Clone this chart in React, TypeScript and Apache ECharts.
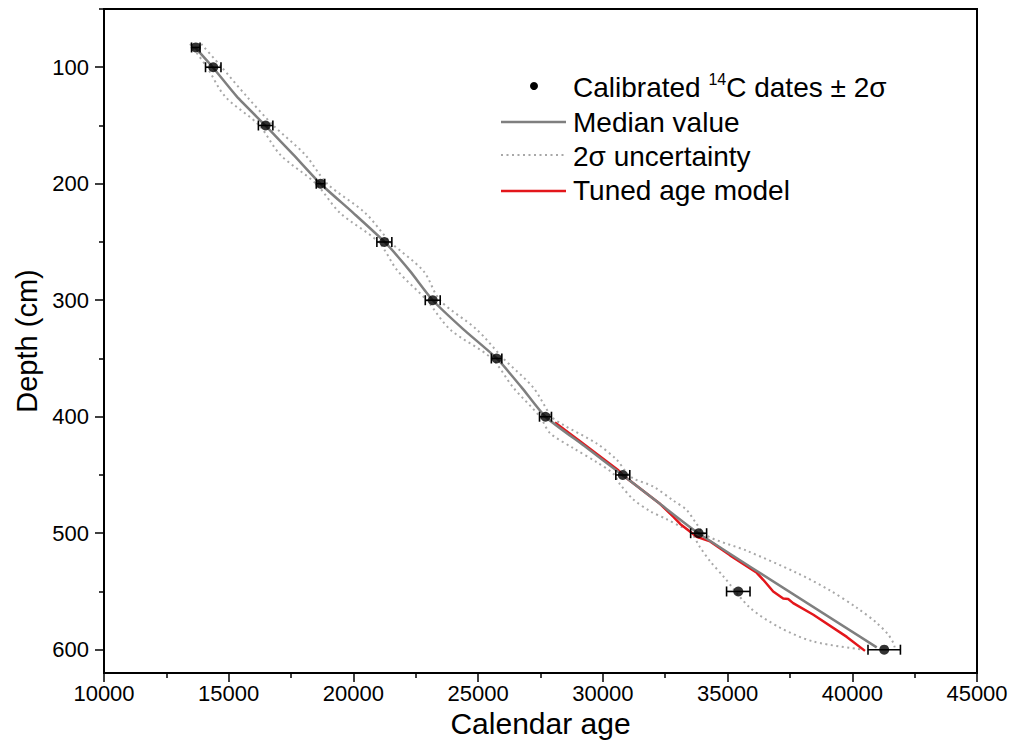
import React, { useEffect, useRef } from 'react';
import * as echarts from 'echarts';

// Calibrated 14C dates (calendar age, depth in cm, 2-sigma half width)
const dateDepths = [83, 100, 150, 200, 250, 300, 350, 400, 450, 500, 550, 600];
const dateAges = [13680, 14380, 16480, 18680, 21240, 23180, 25740, 27700, 30800, 33840, 35430, 41280];
const dateErrors = [170, 310, 290, 170, 300, 300, 210, 240, 280, 320, 470, 650];

// Median age-depth model
const medianDepths = [83, 100, 125, 150, 175, 200, 225, 250, 275, 300, 325, 350, 375, 400, 425, 450, 475, 500, 598];
const medianAges = [13650, 14360, 15320, 16470, 17590, 18680, 19990, 21250, 22270, 23180, 24410, 25750, 26750, 27700, 29250, 30790, 32300, 33830, 40980];

// 2-sigma uncertainty envelope: younger bound
const envLowerDepths = [80, 100, 125, 150, 175, 200, 225, 250, 275, 300, 325, 350, 375, 400, 414, 427, 439, 449, 458, 471, 481, 488, 494, 498, 512, 524, 537, 564, 581, 593, 600];
const envLower = [13450, 14130, 14850, 16230, 17060, 18500, 19460, 21000, 21780, 22940, 23870, 25545, 26410, 27480, 27880, 28815, 29754, 30420, 30690, 31220, 31890, 32560, 33090, 33490, 33895, 34300, 34830, 35900, 37100, 38440, 40450];
// 2-sigma uncertainty envelope: older bound
const envUpperDepths = [80, 100, 125, 150, 175, 200, 225, 250, 275, 300, 325, 350, 375, 400, 407, 423, 437, 448, 453, 460, 472, 480, 490, 502, 515, 534, 549, 564, 577, 587, 594, 598];
const envUpper = [13900, 14720, 15720, 16790, 18060, 18950, 20470, 21480, 22810, 23470, 24940, 26010, 27210, 27950, 28415, 29754, 30556, 30950, 31223, 32025, 32826, 33360, 33693, 34160, 35760, 37770, 39100, 40180, 40980, 41440, 41640, 41700];

// Tuned age model
const tunedDepths = [405, 421, 446, 450, 475, 486, 492, 503, 507, 519, 534, 540, 550, 556, 556.5, 560, 570, 589, 601];
const tunedAges = [28080, 29085, 30620, 30790, 32300, 32830, 33100, 33760, 34300, 35100, 36170, 36430, 36830, 37230, 37430, 37630, 38440, 39780, 40510];

const yMajorTicks = [100, 200, 300, 400, 500, 600];
const yMinorTicks = [50, 150, 250, 350, 450, 550];
const xMin = 10000;
const xMax = 45000;
const xStep = 5000;

const FONT = "'Liberation Sans', Arial, sans-serif";

export default function App() {
  const ref = useRef<HTMLDivElement>(null);

  useEffect(() => {
    if (!ref.current) return;
    const chart = echarts.init(ref.current, undefined, { renderer: 'svg' });

    const errData = dateAges.map((a, i) => [a, dateDepths[i], dateErrors[i]]);
    const ptData = dateAges.map((a, i) => [a, dateDepths[i]]);
    const medData = medianAges.map((a, i) => [a, medianDepths[i]]);
    const lowData = envLower.map((a, i) => [a, envLowerDepths[i]]);
    const upData = envUpper.map((a, i) => [a, envUpperDepths[i]]);
    const tunedData = tunedAges.map((a, i) => [a, tunedDepths[i]]);

    const legendX0 = 501;
    const legendX1 = 566;
    const textX = 573;
    const dotted = [2, 3.5];

    chart.setOption({
      animation: false,
      backgroundColor: '#fff',
      grid: {
        left: 104,
        right: 39,
        top: 9,
        bottom: 72,
        show: true,
        borderColor: '#000',
        borderWidth: 2,
      },
      xAxis: {
        type: 'value',
        min: xMin,
        max: xMax,
        interval: xStep,
        name: 'Calendar age',
        nameLocation: 'middle',
        nameGap: 30,
        nameTextStyle: { fontSize: 30, color: '#000', fontFamily: FONT },
        axisLine: { show: true, onZero: false, lineStyle: { color: '#000', width: 2 } },
        axisTick: { show: true, length: 9, lineStyle: { color: '#000', width: 1.5 } },
        minorTick: { show: true, splitNumber: 2, length: 5, lineStyle: { color: '#000', width: 1.5 } },
        splitLine: { show: false },
        minorSplitLine: { show: false },
        axisLabel: {
          fontSize: 22,
          color: '#000',
          margin: 9,
          fontFamily: FONT,
          formatter: (v: number) => String(v),
        },
      },
      yAxis: [
        {
          type: 'value',
          inverse: true,
          min: 50,
          max: 620,
          position: 'left',
          name: 'Depth (cm)',
          nameLocation: 'middle',
          nameGap: 60,
          nameTextStyle: { fontSize: 29, color: '#000', fontFamily: FONT },
          axisLine: { show: true, onZero: false, lineStyle: { color: '#000', width: 2 } },
          axisTick: { show: true, length: 9, customValues: yMajorTicks, lineStyle: { color: '#000', width: 1.5 } },
          axisLabel: { customValues: yMajorTicks, fontSize: 22, color: '#000', margin: 15, fontFamily: FONT },
          splitLine: { show: false },
        },
        {
          type: 'value',
          inverse: true,
          min: 50,
          max: 620,
          position: 'left',
          axisLine: { show: false },
          axisTick: { show: true, length: 5, customValues: yMinorTicks, lineStyle: { color: '#000', width: 1.5 } },
          axisLabel: { show: false },
          splitLine: { show: false },
        },
      ],
      series: [
        {
          name: '2σ uncertainty',
          type: 'line',
          data: lowData,
          smooth: 0.3,
          showSymbol: false,
          lineStyle: { color: '#a8a8a8', width: 2, type: dotted },
          z: 1,
        },
        {
          name: '2σ uncertainty (older bound)',
          type: 'line',
          data: upData,
          smooth: 0.3,
          showSymbol: false,
          lineStyle: { color: '#a8a8a8', width: 2, type: dotted },
          z: 1,
        },
        {
          name: 'Tuned age model',
          type: 'line',
          data: tunedData,
          showSymbol: false,
          lineStyle: { color: '#e3161b', width: 2.5 },
          z: 2,
        },
        {
          name: 'Median value',
          type: 'line',
          data: medData,
          smooth: 0.2,
          showSymbol: false,
          lineStyle: { color: '#7f7f7f', width: 2.5 },
          z: 3,
        },
        {
          name: 'Calibrated 14C dates error',
          type: 'custom',
          data: errData,
          encode: { x: 0, y: 1 },
          z: 4,
          renderItem: (params: any, api: any) => {
            const x = api.value(0);
            const y = api.value(1);
            const e = api.value(2);
            const p1 = api.coord([x - e, y]);
            const p2 = api.coord([x + e, y]);
            const h = 5;
            const st = { stroke: '#000', lineWidth: 1.6 };
            return {
              type: 'group',
              children: [
                { type: 'line', shape: { x1: p1[0], y1: p1[1], x2: p2[0], y2: p2[1] }, style: st },
                { type: 'line', shape: { x1: p1[0], y1: p1[1] - h, x2: p1[0], y2: p1[1] + h }, style: st },
                { type: 'line', shape: { x1: p2[0], y1: p2[1] - h, x2: p2[0], y2: p2[1] + h }, style: st },
              ],
            };
          },
        },
        {
          name: 'Calibrated 14C dates',
          type: 'scatter',
          data: ptData,
          symbol: 'circle',
          symbolSize: 10,
          itemStyle: { color: '#000' },
          z: 5,
        },
      ],
      graphic: [
        { type: 'circle', shape: { cx: 534, cy: 86, r: 4 }, style: { fill: '#000' } },
        {
          type: 'text',
          x: textX,
          y: 87,
          style: {
            text: '{a|Calibrated }{s|14}{a|C dates ± 2σ}',
            verticalAlign: 'middle',
            rich: {
              a: { fontSize: 28, fontFamily: FONT, fill: '#000', lineHeight: 32 },
              s: { fontSize: 16, fontFamily: FONT, fill: '#000', verticalAlign: 'top', lineHeight: 32, padding: [0, 0, 12, 0] },
            },
          },
        },
        { type: 'line', shape: { x1: legendX0, y1: 122, x2: legendX1, y2: 122 }, style: { stroke: '#7f7f7f', lineWidth: 2.5 } },
        {
          type: 'text', x: textX, y: 122,
          style: { text: 'Median value', fontSize: 28, fontFamily: FONT, fill: '#000', verticalAlign: 'middle' },
        },
        { type: 'line', shape: { x1: legendX0, y1: 155, x2: legendX1, y2: 155 }, style: { stroke: '#a8a8a8', lineWidth: 2, lineDash: dotted } },
        {
          type: 'text', x: textX, y: 156,
          style: { text: '2σ uncertainty', fontSize: 28, fontFamily: FONT, fill: '#000', verticalAlign: 'middle' },
        },
        { type: 'line', shape: { x1: legendX0, y1: 191, x2: legendX1, y2: 191 }, style: { stroke: '#e3161b', lineWidth: 2.5 } },
        {
          type: 'text', x: textX, y: 190,
          style: { text: 'Tuned age model', fontSize: 28, fontFamily: FONT, fill: '#000', verticalAlign: 'middle' },
        },
      ],
    });

    return () => chart.dispose();
  }, []);

  return (
    <div
      ref={ref}
      style={{ position: 'absolute', left: 0, top: 0, width: 1016, height: 745, background: '#fff' }}
    />
  );
}
